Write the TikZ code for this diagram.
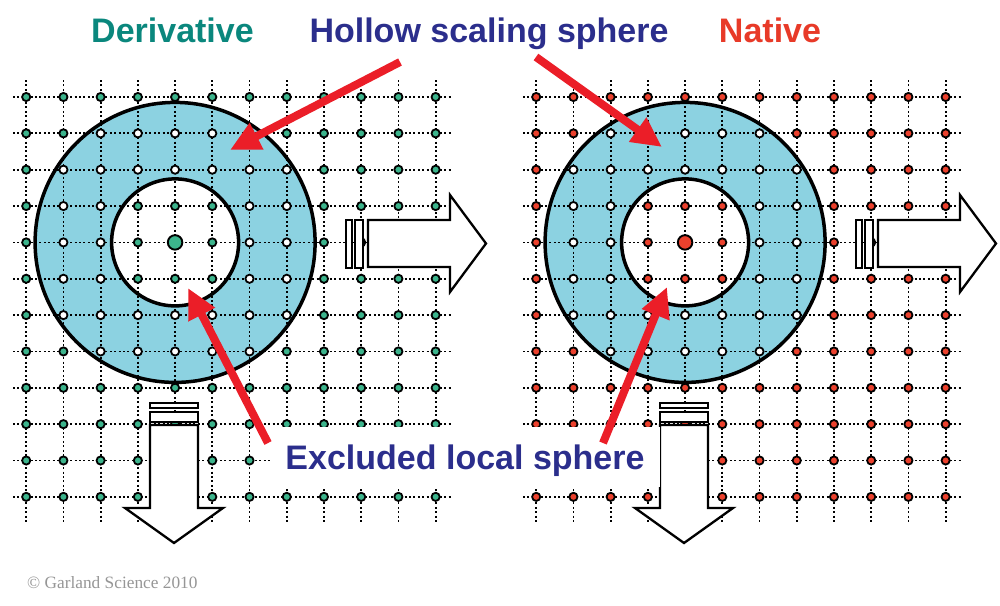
\documentclass[tikz,border=0pt]{standalone}
\usepackage{fontspec}
\newfontfamily\lsans{Liberation Sans}
\newfontfamily\lserif{Liberation Serif}
\usetikzlibrary{arrows.meta}
\definecolor{dotgreen}{RGB}{60,180,140}
\definecolor{dotred}{RGB}{235,65,45}
\definecolor{ttlteal}{RGB}{10,135,125}
\definecolor{ttlred}{RGB}{232,58,40}
\definecolor{ttlblue}{RGB}{43,46,140}
\definecolor{ringblue}{RGB}{140,210,225}
\definecolor{arrred}{RGB}{235,30,40}
\definecolor{cgray}{RGB}{150,150,150}
\tikzset{
  gridline/.style={line width=1.8pt, dash pattern=on 1.9pt off 2.5pt},
  ringline/.style={line width=3.5pt},
  dotnode/.style={circle, draw=black, line width=1.8pt, inner sep=0pt, minimum size=8.2pt},
  bigdot/.style={circle, draw=black, line width=1.9pt, inner sep=0pt, minimum size=14.5pt},
  warrow/.style={draw=black, fill=white, line width=2.3pt, line join=miter},
  redarrow/.style={draw=arrred, line width=8pt, -{Triangle[length=30pt,width=28pt]}},
  ttl/.style={font=\lsans\bfseries\fontsize{34}{38}\selectfont, inner sep=0pt, anchor=base},
}
\begin{document}
\begin{tikzpicture}[x=1pt,y=-1pt]
\useasboundingbox (0,0) rectangle (1000,605);
\fill[white] (0,0) rectangle (1000,605);

\foreach \ox/\col/\p in {0/dotgreen/L, 510/dotred/R} {
\begin{scope}[xshift=\ox pt]
  \coordinate (\p-c) at (175.1,242.4);
  % hollow sphere fill
  \fill[ringblue, even odd rule] (\p-c) circle[radius=140pt] (\p-c) circle[radius=63.5pt];
  % grid lines
  \foreach \j in {0,...,11} {
    \draw[gridline] (13,{97+36.35*\j}) -- (452,{97+36.35*\j});
  }
  \foreach \i in {0,...,11} {
    \draw[gridline] ({26.2+37.22*\i},80) -- ({26.2+37.22*\i},523);
  }
  % sphere outlines
  \draw[ringline] (\p-c) circle[radius=140pt];
  \draw[ringline] (\p-c) circle[radius=63.5pt];
  % lattice points
  \foreach \i in {0,...,11} {
    \foreach \j in {0,...,11} {
      \pgfmathsetmacro{\dd}{10*sqrt(((\i-4)*3.722)^2+((\j-4)*3.635)^2)}
      \pgfmathtruncatemacro{\inring}{(\dd>63.5 && \dd<140) ? 1 : 0}
      \pgfmathtruncatemacro{\iscenter}{(\i==4 && \j==4) ? 1 : 0}
      \ifnum\iscenter=1
        \node[bigdot, fill=\col] (\p-\i-\j) at ({26.2+37.22*\i},{97+36.35*\j}) {};
      \else
        \ifnum\inring=1
          \node[dotnode, fill=white] (\p-\i-\j) at ({26.2+37.22*\i},{97+36.35*\j}) {};
        \else
          \node[dotnode, fill=\col] (\p-\i-\j) at ({26.2+37.22*\i},{97+36.35*\j}) {};
        \fi
      \fi
    }
  }
  % right-pointing arrow with bars
  \draw[warrow] (346,220) rectangle (352,268);
  \draw[warrow] (355,220) rectangle (363,268);
  \draw[warrow] (368,220) -- (450,220) -- (450,195) -- (486,243.5) -- (450,292) -- (450,267) -- (368,267) -- cycle;
  % down-pointing arrow with bars
  \draw[warrow] (150,403) rectangle (198,408);
  \draw[warrow] (150,412) rectangle (198,422);
  \draw[warrow] (150,425) -- (150,508) -- (125,508) -- (174,543) -- (223,508) -- (198,508) -- (198,425) -- cycle;
\end{scope}
}

% labels
\node[ttl, text=ttlteal] (deriv) at (172.5,42) {Derivative};
\node[ttl, text=ttlblue] (hollow) at (489,42) {Hollow scaling sphere};
\node[ttl, text=ttlred] (native) at (770,42) {Native};
\node[ttl, text=ttlblue, fill=white, inner xsep=15pt, inner ysep=0pt, text height=42pt, text depth=18pt] (excl) at (465,469) {Excluded local sphere};
\node[font=\lserif\fontsize{17.3}{20}\selectfont, text=cgray, inner sep=0pt, anchor=base west] (copy) at (27,588) {© Garland Science 2010};

% red pointer arrows
\coordinate (h1) at (400,62);
\coordinate (h1t) at (230,150);
\coordinate (h2) at (536,57);
\coordinate (h2t) at (662,147);
\coordinate (e1) at (268,443);
\coordinate (e1t) at (188,288);
\coordinate (e2) at (603,443);
\coordinate (e2t) at (667,287);
\draw[redarrow] (h1) -- (h1t);
\draw[redarrow] (h2) -- (h2t);
\draw[redarrow] (e1) -- (e1t);
\draw[redarrow] (e2) -- (e2t);
\end{tikzpicture}
\end{document}
